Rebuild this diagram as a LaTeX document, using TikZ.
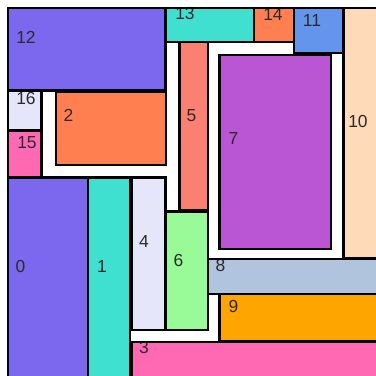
\documentclass[tikz,border=0pt]{standalone}
\usepackage{fontspec}
\setmainfont{Liberation Sans}
\definecolor{cslate}{HTML}{7B68EE}
\definecolor{cturq}{HTML}{40E0D0}
\definecolor{ccoral}{HTML}{FF7F50}
\definecolor{ccorn}{HTML}{6495ED}
\definecolor{cpeach}{HTML}{FFDAB9}
\definecolor{clav}{HTML}{E6E6FA}
\definecolor{chot}{HTML}{FF69B4}
\definecolor{csalmon}{HTML}{FA8072}
\definecolor{corchid}{HTML}{BA55D3}
\definecolor{cpale}{HTML}{98FB98}
\definecolor{csteel}{HTML}{B0C4DE}
\definecolor{corange}{HTML}{FFA500}
\definecolor{ctext}{HTML}{2A2A2A}
\tikzset{
  border/.style={draw=black, line width=2.6bp, line join=miter},
  lab/.style={text=ctext, font=\fontsize{17.5}{20}\selectfont, inner sep=0pt}
}
\begin{document}
\begin{tikzpicture}[x=1bp,y=-1bp]
\useasboundingbox (0,0) rectangle (376,376);
\clip (0,0) rectangle (376,376);
\fill[white] (0,0) rectangle (376,376);
\def\rects{8/8/165.5/90.5/cslate,
  165.5/8/254/42/cturq,
  254/8/294/42/ccoral,
  294/8/343.5/53/ccorn,
  343.5/8/385/258/cpeach,
  8/90.5/41.5/130.5/clav,
  8/130.5/41.5/177.5/chot,
  56/91.5/166/165/ccoral,
  8/177.5/88/385/cslate,
  88/177.5/130/385/cturq,
  131.5/177.5/165.5/330/clav,
  179.5/42/208/210/csalmon,
  165.5/211.5/208/330/cpale,
  219.5/55/331/249/corchid,
  208/259/385/294/csteel,
  219.5/294/385/341.5/corange,
  132/342/385/385/chot}
\foreach \xa/\ya/\xb/\yb/\col in \rects {
  \fill[\col] (\xa,\ya) rectangle (\xb,\yb);
}
\node[lab] (l12) at (26,37) {12};
\node[lab] (l13) at (185,13.5) {13};
\node[lab] (l14) at (273,14) {14};
\node[lab] (l11) at (312,20) {11};
\node[lab] (l10) at (358,121) {10};
\node[lab] (l16) at (26,98.5) {16};
\node[lab] (l15) at (27,142.5) {15};
\node[lab] (l2) at (68.5,115) {2};
\node[lab] (l5) at (191.5,115.5) {5};
\node[lab] (l7) at (233.5,138.5) {7};
\node[lab] (l0) at (20.5,266) {0};
\node[lab] (l1) at (102,266) {1};
\node[lab] (l4) at (144,241.5) {4};
\node[lab] (l6) at (178.5,260) {6};
\node[lab] (l8) at (220.5,265) {8};
\node[lab] (l9) at (233.5,306.5) {9};
\node[lab] (l3) at (144,347) {3};
\foreach \xa/\ya/\xb/\yb/\col in \rects {
  \draw[border] (\xa,\ya) rectangle (\xb,\yb);
}
\end{tikzpicture}
\end{document}
